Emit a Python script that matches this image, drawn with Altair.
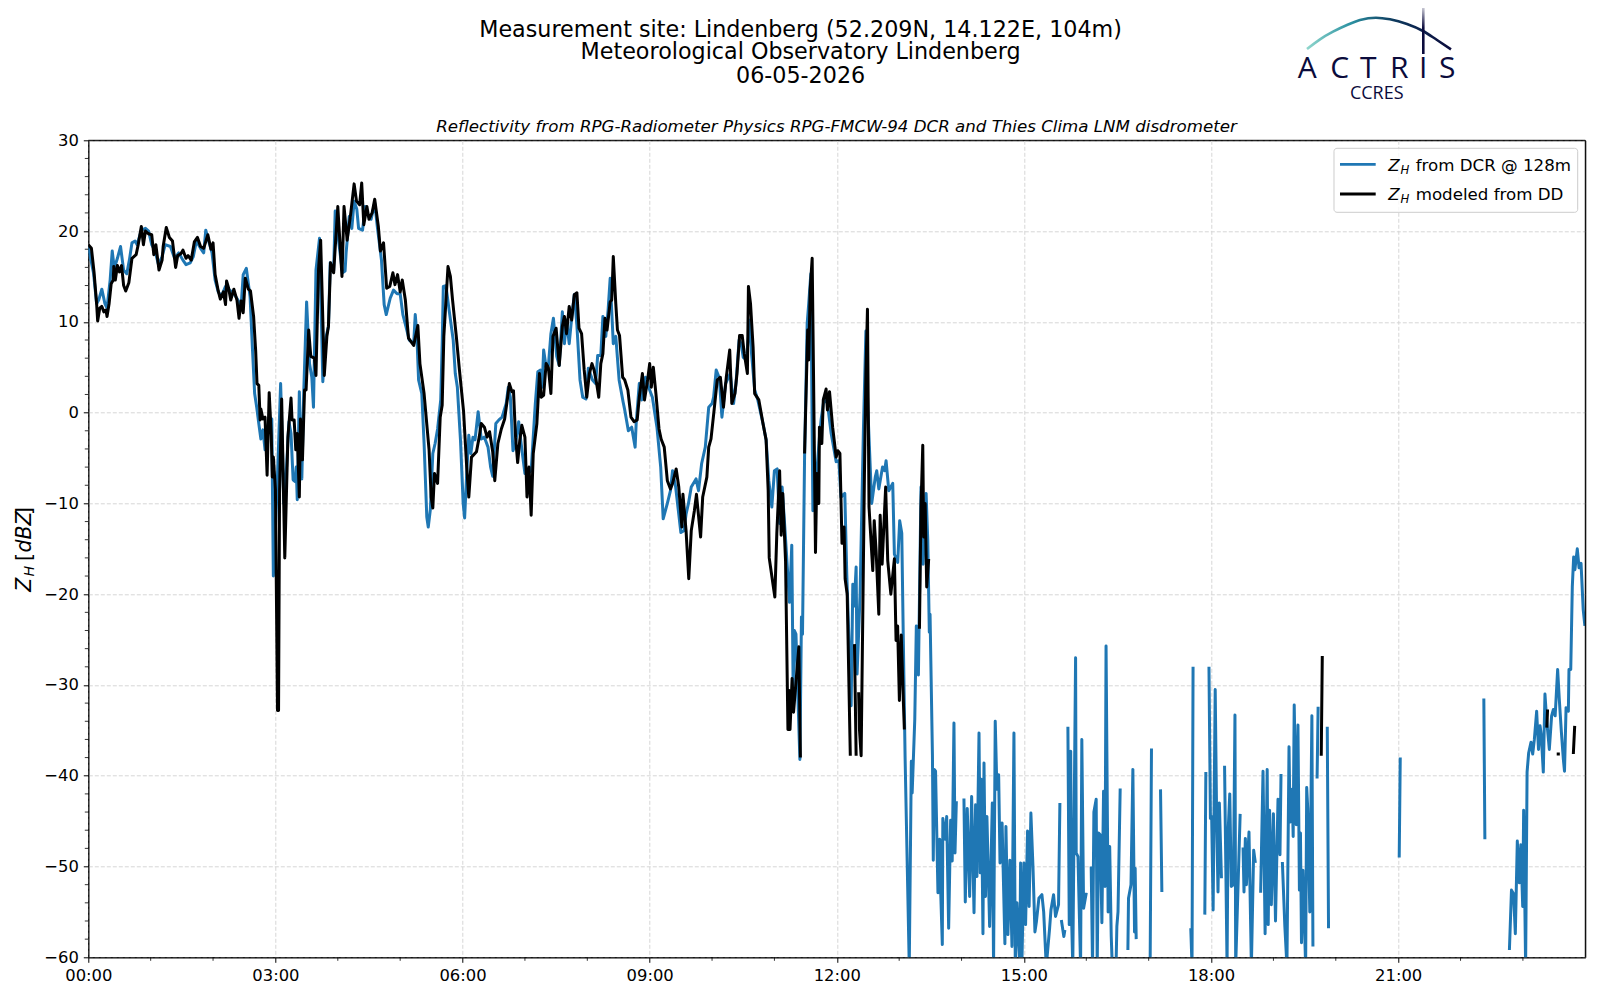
import altair as alt
import pandas as pd

# Reflectivity: (minutes after midnight, dBZ); None breaks the line
DCR_A = [(0,18.3),(5,15.4),(8,12),(10,12.4),(13,13.6),(16,12),(18,11.5),(21,14.6),(23,17.8),(25,15.9),(28,17),(31,18.3),(34,15.7),(37,15.3),(39.5,16.8),(42,18.7),(45,18.9),(47,18.5),(51,20.1),(55,20.3),(58,20),(61,18.5),(64,17.9),(67.5,16.3),(71,17.2),(74,18.5),(79,18.3),(83,17),(87,17.6),(91,16.8),(94,16.3),(98,16.5),(101,17.2),(104,18.9),(108,18.1),(111,17.6),(113,20.1),(115.5,19),(119,17.6),(122,14.6),(125,13.3),(128,12.8),(132,13.9),(136,13.5),(140,13.1),(144,12.4),(147,11.7),(149,15.2),(152,15.9),(155.6,12.8),(158,6.8),(160,2.1),(162,0.6),(164,-1.2),(166,-2.9),(168,-1.9),(170,-4.1),(174,-0.5),(176.5,-0.7),(178,-18),(181.6,-8.4),(185,3.2),(186.4,-2.3),(188,-10),(190.7,-6),(193,-1),(195,-2.3),(197,-7.4),(199,-7.6),(200,-6),(201,-9.6),(203,2.3),(205.4,-7.3),(207.3,2.5)]
DCR_B = [(210,12.2),(212.8,5.4),(215,3.9),(216.6,0.6),(219,15.7),(222.4,19.2),(225.6,3.4),(228,8),(231,9.5),(232.7,16.5),(236,15.6),(237.5,22.2),(240.7,19),(244.5,15.4),(247,15.6),(248,17.6),(251,21.6),(253.5,20.3),(255.7,23.3),(258.3,22.4),(260,20.3),(263.8,20.1),(266.4,22.7),(269.6,21.6),(272,21.3),(275.5,23.1),(278,20.5),(282,16.8),(284.6,11.9),(286.6,10.8),(290.4,12.6),(293.6,13.5),(297,13.1),(300,13.1),(302.6,10.8),(305.5,9.5),(308.7,8),(313,7.6),(314.5,10.8),(316,8.7),(317.7,3.6),(320.8,2.1),(323,-3.4),(325.6,-11.5),(327,-12.6),(329,-10.7),(331.4,-4.5),(333.6,-3.4),(336,-1.8),(339,1.4),(340.5,8),(341.5,13.9),(344,14),(346.6,11.7),(351,8),(353,4.3),(355,2.8),(358,-3),(360.6,-10),(362,-11.6),(364,-6.7),(366,-2.5),(368,-4.5),(370,-2.7),(372,-3),(375,0.1),(378,-2.9),(381,-2.7),(384.5,-3.8),(387,-6),(389,-7),(392,-1.2),(395,-0.8),(398,-0.5),(402,1),(404,2.8),(406,1.7),(408.5,-4.2),(411,-3.4),(414,-1),(416,-3.1),(420,-6.7),(423,-6.7),(426,-6.4),(427.6,-3.4),(430,1),(432.4,4.5),(435,4.7),(436.6,2.8),(438,6.9),(440.4,5),(442.6,5.2),(445,8.7),(447.4,10.4),(450.6,6.2),(453,5.2),(456,11.1),(458,7.6),(460,10.2),(462.6,7.6),(465,10.5),(467.5,13),(470,9.6),(473,3.6),(475.6,1.7),(478.7,1.5),(481,4.9),(485,3.6),(488,3.2),(490,6.3),(493,6.3),(495,10.6),(497.8,8.4),(500,11.3),(502,14.8),(505,7.6),(507.4,8.4),(510.6,3.6),(514.4,1.2),(516,0.3),(519.5,-2),(522.7,-1.6),(526,-3.8),(527,-1.2),(530,3.2),(532.3,1.4),(536,3.9),(539,2.8),(542.6,1.7),(547,-1.6),(550.6,-6),(553,-11.7),(557,-10),(560,-8.6),(562,-6.4),(565,-8.2),(570,-13.2),(573,-13),(575,-11.2),(577.3,-10),(580,-8.2),(584.6,-7.3),(587,-8.6),(590,-5.6),(593.5,-3.8),(596.8,0.6),(600,1),(601.5,1.7),(604,4.7),(607,3.8),(609.5,-0.5),(613,3.2),(617.5,4.3),(620.7,1),(623,3.2),(626,8),(628,7.6),(630,6.1),(633,5.8),(636.5,10.2),(638,6.5),(641,2.5),(644,1.4),(649,-1.2),(652,-3)]
DCR_C = [(654.6,-7.5),(657.5,-10.4),(660,-6.4),(662.6,-6.2),(665,-12.2),(667.4,-8.2),(670,-12.6),(674.5,-20.9),(676.7,-14.6),(678,-30.3),(679.2,-24),(680.7,-24.4),(684.5,-38.2),(686,-22.5),(687,-24.4),(689,-4.9),(691.5,9.8),(693,12),(695,15.3),(697,-10.8),(699,-6),(700.8,-6.5),(703.3,-2.7),(705,-0.7),(708,1.7),(711,1),(714.6,-2.3),(719.4,-5.4),(722,-5.3),(724,-9.3),(727.7,-8.9),(729.6,-17.8),(733.8,-32.3),(735.4,-18.9),(736.7,-21.3),(738.6,-17),(739.5,-28.8),(742.4,-20),(745.6,-1.9),(748,9),(749.8,0.6),(753.6,-10),(757,-7.1),(758.4,-6.4),(760.4,-8.4),(764,-6),(766,-6.4),(767.4,-5.3),(770,-8.6),(773.8,-7.8),(775.4,-15.6),(778.6,-16.5),(780.5,-11.9),(782.5,-13.3),(784,-25.1),(785.7,-38),(789.7,-61),(791.7,-38.4),(792.5,-41.9),(795,-33.8),(796.5,-23.5),(798.5,-28.9),(801,-8.2),(803,-16.7),(805.9,-8.9),(807.5,-14),(809,-24.2),(809.7,-22.2),(812,-37.8),(812.8,-49.3),(813.7,-39.3),(815,-39.5),(817.3,-52.9),(819,-47),(820,-53),(821.5,-58.6),(822,-44.7),(824.4,-47),(825.7,-44.5),(827.6,-56.8),(829.5,-44.9),(831,-49.4),(832.7,-34.2),(833.7,-48.5),(835,-42.8),(838,None)]
DCR_D = [(842.3,-42.5),(843.6,-53.9),(845.5,-43.6),(847.8,-53.3),(849.7,-42.3),(852,-55.1),(853.5,-43.2),(854.8,-51.1),(856.8,-35.3),(858,-50.7),(859,-40.4),(860.6,-57.4),(861.6,-38.6),(863,-53.3),(864.4,-44.5),(867,-56.6),(869.6,-43),(870.8,-61),(872.4,-34),(874,-41.5),(875.7,-39.9),(877,-49.6),(879,-45.2),(881.7,-58.5),(882.7,-45.6),(884.6,-57.5),(886.5,-49.3),(888.5,-58.8),(890.4,-35.3),(891.7,-61),(893.3,-54),(896,-61),(896.8,-49.6),(898,-61),(900,-49.6),(901.6,-56.4),(903.5,-46.1),(905,-54.4),(906.7,-44.1),(908.7,-50),(910.6,-57.2),(912,-56.1),(914.4,-53.5),(917.3,-53.1),(919,-55),(921.5,-61),(924.7,-56.8),(926,-54.8),(928.5,-53.1),(930.4,-55.5),(933.3,-54.2),(934.6,-43),(935.3,None),(936,-55.9),(938.4,-57.7),(939.4,-57),(940.5,None)]
DCR_E = [(942.3,-34.6),(943.6,-56.4),(945,-37.3),(946,-56.4),(947,-61),(949.7,-27),(950.3,-48.5),(952,-48.9),(954.5,-61),(955.7,-36),(957.4,-54.6),(960,-52.9),(962,None),(964.7,-50),(966,-61),(967.3,-44),(969.5,-42.6),(970.5,-61),(971.8,-46.3),(973.4,-46.5),(975,-56.2),(976.6,-41.7),(978,-52.2),(979,-25.7),(981,-55),(982.5,-47.8),(984,-57.7),(985,-61),(987,None),(988.6,-61),(989.4,-56.6),(990.5,-55),(992.6,-41.4),(996,None),(1000,-59.2),(1000.6,-53.5),(1003,-52),(1004.8,-39.3),(1006.4,-57.2),(1007,-50.2),(1008,-58),(1014,None),(1021.4,-61),(1022.7,-37),(1027,None),(1031.4,-41.5),(1032.7,-52.8),(1045,None)]
DCR_F = [(1060.5,-56.8),(1061.7,-61),(1062.7,-28),(1068,None),(1074,-55.3),(1075,-39.6),(1076.5,None),(1078,-28),(1079.4,-44.7),(1080.6,-44.5),(1082,-54.8),(1084,-30.5),(1085.4,-44.9),(1086.7,-52.8),(1088,-43),(1090,-51.3),(1091.5,None),(1093,-38.9),(1095.4,-61),(1096.3,-46.5),(1098,-42),(1099.5,-52.2),(1101.5,-52),(1103,-33.3),(1103.7,-61),(1106,-52),(1108,-44.2),(1109.4,None),(1110.8,-47.9),(1111.7,-52.8),(1113,-46.9),(1114,-52),(1116.5,-46.2),(1118.8,-61),(1121,-48.2),(1122.6,-49.6),(1125,None),(1127.7,-52.9),(1130,-39.5),(1132,-57.4),(1134,-39.3),(1135,-56.4),(1136.3,-43.8),(1138,-54.2),(1140,-44.2),(1142,-56),(1144.4,-42.6),(1146.3,-48.7),(1147.3,-39.8),(1148,None),(1148.6,-49.5),(1151,-56.6),(1153,-61),(1155,-36.8),(1156,-45.1),(1158,-41.5),(1159,-46.7),(1160,-32.2),(1162,-45.4),(1163.6,-34.4),(1165,-52.6),(1166,-46.3),(1167,-58.4),(1168.4,-50.4),(1171,-61),(1172,-41.3),(1173,-43.6),(1175,-55),(1177,-33.4),(1178,-58.8),(1180,None),(1182,-40.3),(1183,-32.4),(1187,None),(1191.8,-34.6),(1193,-56.8),(1220,None)]
DCR_G = [(1261,-49),(1262,-38),(1300,None),(1342.4,-31.5),(1343.4,-47),(1355,None),(1367,-59.2),(1369,-52.6),(1371,-53),(1372.7,-57.4),(1374.6,-47.2),(1376.6,-51.8),(1378,-47.6),(1379.8,-54.4),(1380.7,-43.8),(1382.6,-61),(1384,-39.6),(1385.5,-37.5),(1387.8,-36.3),(1389.4,-37.6),(1391,-36),(1393.2,-32.9),(1395,-37.1),(1396.5,-34.5),(1397.7,-35.6),(1399.6,-39.6),(1401.2,-31),(1402.8,-33.8),(1405.4,-37.1),(1407.6,-33.4),(1409.3,-32.7),(1411,-33.4),(1413.4,-28.3),(1415,-31.6),(1417,-35.2),(1418.9,-38.2),(1420,-39.5),(1421.5,-32.5),(1423.7,-32.9),(1424.3,-28.3),(1426,-28.3),(1427.5,-19.2),(1428.8,-15.9),(1430,-17.3),(1432.3,-15),(1434,-17.1),(1435.9,-16.6),(1438,-21.7),(1439.6,-23.5)]

DD_A = [(0,18.5),(3,18.1),(5.5,15.5),(8,12),(9,10.1),(11,11.5),(13,11.7),(15,11.1),(17,11.3),(18,10.6),(20,12),(22,14.2),(24,14.6),(24.5,16.1),(26,14.6),(28,16.2),(30,15.5),(32,16.2),(34,14),(36,13.4),(39,14.3),(42,17),(46,17.4),(48,18.5),(51,20.5),(53,18.5),(55,20),(58,19.7),(61,19.6),(63,17.4),(65,18.5),(68,15.7),(71,16.8),(72,18.3),(75,20.4),(78,19.3),(81,18.9),(84,16),(86,17.3),(89,17.5),(91,17.9),(94,17),(96,17.3),(99,16.8),(102,18.8),(105,19.3),(108,18.3),(111,18.1),(115,19.6),(118,18),(120,18.7),(122,15.2),(125,13.4),(127,12.5),(130,13.3),(132,11.9),(133,14.5),(135,13.7),(137,12.4),(140,13.6),(143,12.4),(145,10.4),(147,12.3),(149,11),(151,14.8),(154,13.6),(156,13.4),(159,10.6),(161,6.8),(162.3,3.2),(164,3),(165.3,-0.8),(166,0.4),(168,-0.7),(170,-0.5),(172,-6.9),(174,2.2),(176,-2.5),(177,-7.1),(178,-4.9),(180,-8.5),(182,-32.8),(183,-32.8),(184,-8.5),(186,1.5),(189,-16),(192,-2.7),(195,1.6),(196,-0.8),(198,-0.8),(199.6,-4.1),(201,-2.3),(203,-9.3),(204.1,-0.7),(206,-5.2),(208,2.5),(209.5,2.5),(212,9.1),(214,6.2),(217.5,6),(219,4.1),(221.5,15.9),(223.5,19),(225,12.8),(227,4.1),(229.5,8.4),(231,9.5),(233,16.5),(236,15.4),(240,22.7),(244,15),(246,22.7),(249,19),(252.5,22),(255.7,25.2),(258,23.3),(261,22.9),(263,25.3),(265,20.7),(268,22.7),(270,21.3),(273,22),(275.5,23.5),(279,20.5),(281,17.8),(284,18.7),(287,13.7),(290,13.9),(293,15.4),(295,14.1),(297.5,15.2),(300,13.3),(302,14.6),(305,12.4),(308,8.2),(313,7.4),(317,9.6),(319,5.4),(323,2.1),(325,-0.5),(327.8,-4.1),(329.8,-9.3),(331.4,-10.5),(333,-6.7),(336,-7.8),(338.5,-0.5),(340.4,0.8),(342,8.4),(346,16.1),(348.3,15),(350.4,12.4),(354,8.4),(357,4.7),(361,0.1)]
DD_B = [(364,-6),(366,-9.3),(368.6,-4.9),(373.4,-4.3),(376,-2.7),(378,-1.2),(381,-1.6),(383.6,-2.7),(386,-2.1),(389,-4.3),(391,-7.5),(394,-3.4),(397.3,-1.8),(400.5,-0.7),(403,1.4),(405,3.2),(407.5,2.3),(409,2.4),(411,-2.7),(413,-5.5),(415,-3.1),(417,-1.4),(420,-2.7),(422,-9.3),(424,-6),(426,-11.3),(428,-4.5),(431.5,-1.2),(434,4.3),(435.6,1.7),(438,1.9),(440.4,5.4),(442.5,5),(445,2.1),(447,8.4),(450,9.3),(453,5.2),(456,9.5),(458,10.6),(460,8.7),(462.6,11.7),(465,10.2),(467.5,13),(470,13.2),(472,9.3),(474.5,8.7),(477,4.7),(479.5,1.7),(482,4.3),(484.5,5.4),(486.5,4.7),(489,3.2),(491,1.7),(493,5.4),(495,6.5),(497,10.4),(499,9.1),(502,12.2),(503.5,12.4),(505,17.2),(507.4,12),(509,9.1),(511,8.5),(514,3.9),(516,3.6),(519,2.5),(522,-0.5),(525,-1),(528,-0.8),(530,1.7),(533,4.3),(535,1.4),(538,3.6),(540,5.4),(541.6,2.8),(543.5,5),(546,2.1),(549,-1.8),(551,-2.9),(554,-3.8),(557,-7.5),(560,-8.4),(562,-7.8),(565.5,-6.2),(568,-8.2),(571,-12.6),(572,-9),(575,-13),(577.6,-18.3),(580,-13),(583,-10.8),(585,-9),(589,-13.7),(591,-9.3),(595,-7.1),(596.8,-3.8),(599,-2.9),(602,0.3),(605,3.6),(608,3.9),(611,0.6),(613.7,3.9),(617,6.9),(619,1),(622,2.1),(624,4.3),(626.5,8.5),(629,8.5),(631,6.5),(634,4.3),(635,13.9),(637,12),(639.5,7.2),(641,2.1),(645,1.4),(649,-1.2),(652,-3)]
DD_C = [(654,-8.6),(655,-16),(659,-19.2),(660.4,-20.3),(662.3,-13.3),(665,-6.4),(666.5,-13.5),(668,-8.9),(670.7,-16.3),(673,-34.9),(674.2,-30.6),(675,-34.9),(677,-29.3),(678.4,-33),(683.5,-25.8),(685,-38),(687,None),(689,-4.5),(692,9.1),(693,5.8),(694.4,13.5),(696.3,17),(697.6,4.3),(699.5,-15.4),(700.8,-6.7),(702.7,-10),(703.3,-1.6),(705.6,-3.4),(707,1.4),(709.7,2.6),(711,0.3),(713,2.3),(716,-1.6),(719.4,-4.9),(721,-4.2),(723,-4.5),(725,-14.4),(727,-12.6),(728,-18.3),(730,-20),(733,-37.8),(735,None),(737,-25.5),(738.6,-37.8),(740,None),(741,-30.8),(741.8,-34.9),(743.4,-37.8),(746.6,-6.7),(748,4.3),(749.5,11.4),(751,-10.4),(754.6,-17.4),(756,-11.9),(757.8,-15.2),(760.4,-22.2),(761.7,-11.3),(763.6,-16.7),(767,-8.2),(769,-16.3),(772,-20),(775.4,-16.1),(777,-25.1),(778.5,-23.5),(780.2,-31.7),(782,-24.5),(784,-31.7),(785,-34.9),(790,None),(799.5,-23.8),(801,-10.4),(802.7,-3.6),(803.6,-13.7),(805,-10),(806.5,-19.2),(808.4,-16.1),(815,None)]
DD_D = [(1186,-37.8),(1187,-26.8),(1195,None),(1403,-34.7),(1403.7,-32.7),(1408,None),(1412.5,-37.6),(1415.5,-37.6),(1420,None),(1428.5,-37.6),(1429.8,-34.5)]

# Axis values
X_TICKS = [0, 180, 360, 540, 720, 900, 1080, 1260]
X_MINOR = [60, 120, 240, 300, 420, 480, 600, 660, 780, 840, 960, 1020, 1140, 1200, 1320, 1380]
Y_TICKS = [-60, -50, -40, -30, -20, -10, 0, 10, 20, 30]
Y_MINOR = [v for v in range(-58, 30, 2) if v % 10 != 0]

TITLE_LINES = ["Measurement site: Lindenberg (52.209N, 14.122E, 104m)", "Meteorological Observatory Lindenberg", "06-05-2026"]
SUBTITLE = "Reflectivity from RPG-Radiometer Physics RPG-FMCW-94 DCR and Thies Clima LNM disdrometer"

# Logo arc, in page pixels
ARC_PX = [1307, 1320, 1333, 1347, 1360, 1376, 1390, 1407, 1423, 1437, 1451]
ARC_PY = [49, 39.3, 31.7, 25, 20, 17.7, 19.3, 24, 31, 40, 49.3]

LEFT, TOP, W, H = 88.3, 140.3, 1497, 817
FONT = "DejaVu Sans"
BLUE, BLACK, NAVY = "#1f77b4", "#000000", "#0b0b3c"

def frame(*parts):
    rows = [r for p in parts for r in p]
    return pd.DataFrame(rows, columns=["minute", "zh"])

dcr = frame(DCR_A, DCR_B, DCR_C, DCR_D, DCR_E, DCR_F, DCR_G)
dd = frame(DD_A, DD_B, DD_C, DD_D)

xs = alt.Scale(domain=[0, 1440], nice=False, zero=False)
ys = alt.Scale(domain=[-60, 30], nice=False, zero=False)
one = pd.DataFrame({"a": [0]})

def px(v):
    return alt.value(v - LEFT)

def py(v):
    return alt.value(v - TOP)

def text(s, x, y, size=16.67, font=FONT, style="normal", align="left", baseline="alphabetic", angle=0, color=BLACK, weight="normal"):
    return alt.Chart(one).mark_text(text=s, font=font, fontSize=size, fontStyle=style, align=align, fontWeight=weight,
                                    baseline=baseline, angle=angle, color=color).encode(x=px(x), y=py(y))

x_axis = alt.Axis(values=X_TICKS, title=None, grid=True, gridDash=[4, 2], gridColor="#d6d6d6", gridWidth=1,
                  labelExpr="(floor(datum.value/60)<10?'0':'')+floor(datum.value/60)+':00'", labelFont=FONT,
                  labelFontSize=16.4, labelColor=BLACK, labelPadding=5, labelOverlap=False, labelFlush=False,
                  tickSize=5, tickColor=BLACK, tickWidth=1, domainColor=BLACK, domainWidth=1)
y_axis = alt.Axis(values=Y_TICKS, title=None, grid=True, gridDash=[4, 2], gridColor="#d6d6d6", gridWidth=1,
                  format="d", labelFont=FONT, labelFontSize=16.4, labelColor=BLACK, labelPadding=5, labelOverlap=False,
                  tickSize=5, tickColor=BLACK, tickWidth=1, domainColor=BLACK, domainWidth=1)
X = alt.X("minute:Q", scale=xs, axis=x_axis)
Y = alt.Y("zh:Q", scale=ys, axis=y_axis)

blue_line = alt.Chart(dcr).mark_line(color=BLUE, strokeWidth=3, clip=True, strokeJoin="round").encode(x=X, y=Y)
black_line = alt.Chart(dd).mark_line(color=BLACK, strokeWidth=3, clip=True, strokeJoin="round").encode(x=X, y=Y)

x_minor = alt.Chart(pd.DataFrame({"minute": X_MINOR})).mark_rule(color=BLACK, strokeWidth=0.8).encode(
    x=X, y=alt.value(H), y2=alt.value(H + 3.5))
y_minor = alt.Chart(pd.DataFrame({"zh": Y_MINOR})).mark_rule(color=BLACK, strokeWidth=0.8).encode(
    y=Y, x=alt.value(0), x2=alt.value(-3.5))

layers = [blue_line, black_line, x_minor, y_minor]

# Frame over the gridlines
layers.append(alt.Chart(one).mark_rule(color=BLACK, strokeWidth=1).encode(x=alt.value(0), x2=alt.value(W), y=alt.value(0)))
layers.append(alt.Chart(one).mark_rule(color=BLACK, strokeWidth=1).encode(x=alt.value(W), y=alt.value(0), y2=alt.value(H)))

# Legend
layers.append(alt.Chart(one).mark_rect(fill="white", fillOpacity=0.8, stroke="#cccccc", strokeWidth=1, cornerRadius=3).encode(
    x=px(1334), x2=px(1577.7), y=py(148.3), y2=py(212.3)))
layers.append(alt.Chart(one).mark_rule(color=BLUE, strokeWidth=2.8).encode(x=px(1340), x2=px(1375.7), y=py(164.3)))
layers.append(alt.Chart(one).mark_rule(color=BLACK, strokeWidth=2.8).encode(x=px(1340), x2=px(1375.7), y=py(194)))
for base, label in [(170.7, "from DCR @ 128m"), (200.4, "modeled from DD")]:
    layers.append(text("Z", 1388.3, base, size=16.67, style="italic"))
    layers.append(text("H", 1400.5, base + 3, size=11.7, style="italic"))
    layers.append(text(label, 1415.7, base, size=16.67))

# Y axis title
layers.append(text("Z", 30.7, 591.7, size=20.5, style="italic", angle=270))
layers.append(text("H", 33.5, 576.5, size=14.3, style="italic", angle=270))
layers.append(text("[", 30.7, 561, size=20.5, angle=270))
layers.append(text("dBZ", 30.7, 552.5, size=20.5, style="italic", angle=270))
layers.append(text("]", 30.7, 515, size=20.5, angle=270))

# Titles
for y, line in zip([29.6, 52.5, 76.3], TITLE_LINES):
    layers.append(text(line, 800.6, y, size=22.25, align="center", baseline="middle"))
layers.append(text(SUBTITLE, 836.5, 126.6, size=16.67, style="italic", align="center", baseline="middle"))

# Logo
arc = pd.DataFrame({"minute": [(p - LEFT) / W * 1440 for p in ARC_PX],
                    "zh": [30 + (TOP - p) / H * 90 for p in ARC_PY]})
layers.append(alt.Chart(arc).mark_line(
    interpolate="monotone", strokeWidth=2.6, clip=False,
    stroke=alt.Gradient(gradient="linear", x1=0, y1=0, x2=1, y2=0,
                        stops=[alt.GradientStop(color="#8fd6cc", offset=0), alt.GradientStop(color="#2d93a3", offset=0.3),
                               alt.GradientStop(color="#0e3a5e", offset=0.6), alt.GradientStop(color=NAVY, offset=1)])
).encode(x=X, y=Y))
layers.append(alt.Chart(one).mark_rect(
    fill=alt.Gradient(gradient="linear", x1=0, y1=0, x2=0, y2=1,
                      stops=[alt.GradientStop(color="#ffffff", offset=0), alt.GradientStop(color=NAVY, offset=0.5),
                             alt.GradientStop(color=NAVY, offset=1)])
).encode(x=px(1422), x2=px(1424.6), y=py(2), y2=py(54)))
for letter, cx in zip("ACTRIS", [1307.3, 1339.7, 1368.3, 1399.3, 1423.3, 1447.3]):
    layers.append(text(letter, cx, 77.7, size=30, font="Open Sans", align="center", color=NAVY, weight=500))
layers.append(text("CCRES", 1376.7, 99, size=18, font="Open Sans", align="center", color=NAVY))

chart = alt.layer(*layers).properties(
    width=W, height=H, background="white",
    autosize=alt.AutoSizeParams(type="none"),
    padding={"left": LEFT - 8, "top": TOP - 8, "right": 6, "bottom": 34},
).configure_view(stroke=BLACK, strokeWidth=1)

chart.save("out.html", embed_options={"renderer": "svg", "actions": False})
